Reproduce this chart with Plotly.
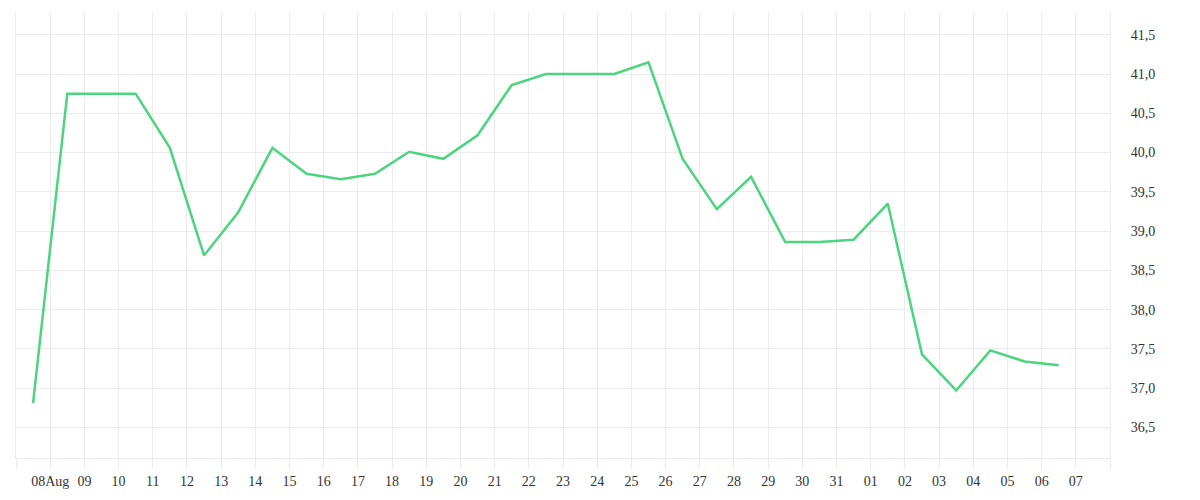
import plotly.graph_objects as go
import pandas as pd

# daily readings, one per day (plotted at midday)
days = pd.date_range("2023-08-07 12:00", "2023-09-06 12:00", freq="D")
values = [36.81, 40.75, 40.75, 40.75, 40.06, 38.69, 39.24, 40.06, 39.73, 39.66,
          39.73, 40.01, 39.92, 40.22, 40.86, 41.00, 41.00, 41.00, 41.15, 39.92,
          39.28, 39.69, 38.86, 38.86, 38.89, 39.35, 37.43, 36.97, 37.48, 37.34,
          37.29]

tick_days = pd.date_range("2023-08-07", "2023-09-08", freq="D")
tick_labels = [""] + ["08Aug"] + [d.strftime("%d") for d in tick_days[2:-1]] + [""]

grid = "#ececec"
font = dict(family="Liberation Serif", size=14, color="#333333")

fig = go.Figure()
fig.add_trace(go.Scatter(x=days, y=values, mode="lines",
                         line=dict(color="#4cd47e", width=2.5)))

fig.update_layout(
    width=1200, height=500,
    margin=dict(l=8, r=98, t=4, b=50),
    plot_bgcolor="white", paper_bgcolor="white",
    showlegend=False,
    separators=",.",
    font=font,
)
fig.update_xaxes(
    type="date",
    range=[tick_days[0], tick_days[-1]],
    tickmode="array", tickvals=tick_days, ticktext=tick_labels,
    showgrid=True, gridcolor=grid, gridwidth=1,
    ticks="outside", ticklen=10, tickcolor=grid,
    showline=True, linecolor=grid, linewidth=1,
    zeroline=False, tickfont=font,
)
fig.update_yaxes(
    side="right",
    range=[36.11, 41.79],
    dtick=0.5, tick0=36.5, tickformat=".1f",
    showgrid=True, gridcolor=grid, gridwidth=1,
    showline=True, mirror=True, linecolor=grid, linewidth=1,
    ticks="", ticklabelstandoff=17,
    zeroline=False, tickfont=font,
)

fig.write_html("out.html")
